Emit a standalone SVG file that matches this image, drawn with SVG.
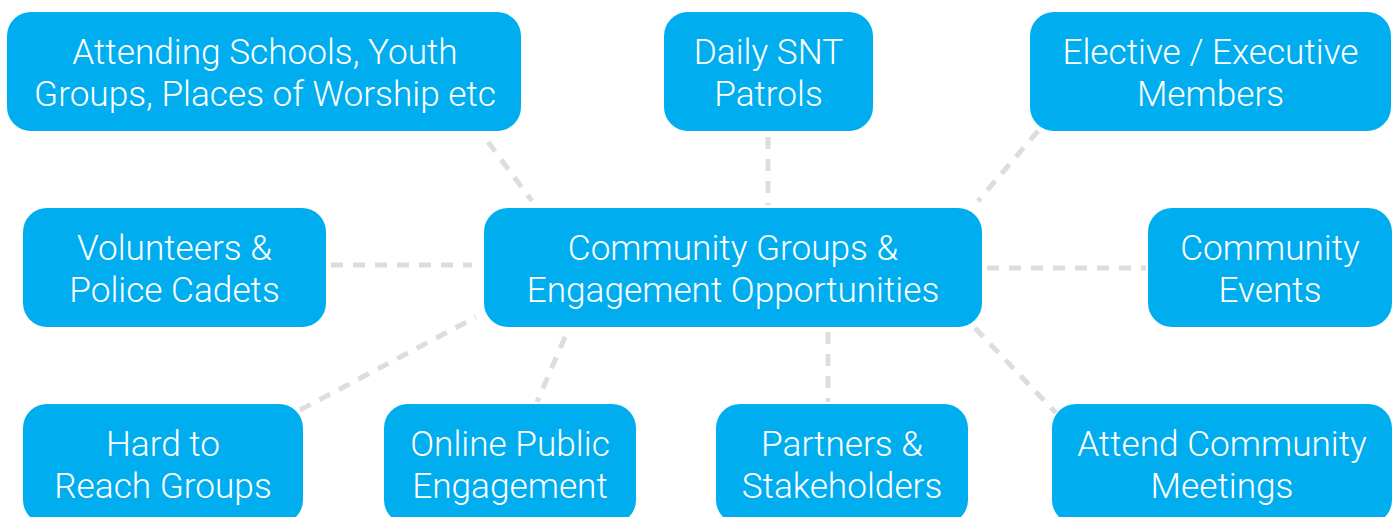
<svg xmlns="http://www.w3.org/2000/svg" width="1397" height="517" viewBox="0 0 1397 517">
  <style>
    .box { fill: #00aeef; }
    .lbl { font-family: Roboto, "Liberation Sans", Arial, sans-serif; font-weight: 300; font-size: 35.2px; fill: #ffffff; text-anchor: middle; }
    .link { stroke: #dddddd; stroke-width: 5; stroke-dasharray: 12 10; fill: none; }
  </style>
  <rect width="1397" height="517" fill="#ffffff"/>

  <!-- dashed spokes from the hub to each satellite -->
  <g id="connectors">
    <line class="link" x1="488" y1="142" x2="532" y2="201"/>
    <line class="link" x1="768" y1="137" x2="768" y2="205"/>
    <line class="link" x1="1038" y1="131" x2="978" y2="201"/>
    <line class="link" x1="331" y1="265" x2="472" y2="265"/>
    <line class="link" x1="987" y1="268" x2="1146" y2="268"/>
    <line class="link" x1="300" y1="410" x2="476" y2="317"/>
    <line class="link" x1="565" y1="337" x2="537" y2="402"/>
    <line class="link" x1="828" y1="332" x2="828" y2="402"/>
    <line class="link" x1="975" y1="328" x2="1056" y2="413"/>
  </g>

  <g id="hub">
    <rect class="box" x="484" y="208" width="498" height="119" rx="24"/>
    <text class="lbl" x="733" y="260">Community Groups &amp;</text>
    <text class="lbl" x="733" y="302">Engagement Opportunities</text>
  </g>

  <g id="schools">
    <rect class="box" x="7" y="12" width="514" height="119" rx="24"/>
    <text class="lbl" x="265" y="64">Attending Schools, Youth</text>
    <text class="lbl" x="265" y="106">Groups, Places of Worship etc</text>
  </g>

  <g id="patrols">
    <rect class="box" x="664" y="12" width="209" height="119" rx="24"/>
    <text class="lbl" x="768.5" y="64">Daily SNT</text>
    <text class="lbl" x="768.5" y="106">Patrols</text>
  </g>

  <g id="members">
    <rect class="box" x="1030" y="12" width="361" height="119" rx="24"/>
    <text class="lbl" x="1210.5" y="64">Elective / Executive</text>
    <text class="lbl" x="1210.5" y="106">Members</text>
  </g>

  <g id="volunteers">
    <rect class="box" x="23" y="208" width="303" height="119" rx="24"/>
    <text class="lbl" x="174.5" y="260">Volunteers &amp;</text>
    <text class="lbl" x="174.5" y="302">Police Cadets</text>
  </g>

  <g id="events">
    <rect class="box" x="1148" y="208" width="244" height="119" rx="24"/>
    <text class="lbl" x="1270" y="260">Community</text>
    <text class="lbl" x="1270" y="302">Events</text>
  </g>

  <g id="hard-to-reach">
    <rect class="box" x="23" y="404" width="280" height="120" rx="24"/>
    <text class="lbl" x="163" y="456">Hard to</text>
    <text class="lbl" x="163" y="498">Reach Groups</text>
  </g>

  <g id="online">
    <rect class="box" x="384" y="404" width="252" height="120" rx="24"/>
    <text class="lbl" x="510" y="456">Online Public</text>
    <text class="lbl" x="510" y="498">Engagement</text>
  </g>

  <g id="partners">
    <rect class="box" x="716" y="404" width="252" height="120" rx="24"/>
    <text class="lbl" x="842" y="456">Partners &amp;</text>
    <text class="lbl" x="842" y="498">Stakeholders</text>
  </g>

  <g id="meetings">
    <rect class="box" x="1052" y="404" width="340" height="120" rx="24"/>
    <text class="lbl" x="1222" y="456">Attend Community</text>
    <text class="lbl" x="1222" y="498">Meetings</text>
  </g>
</svg>
